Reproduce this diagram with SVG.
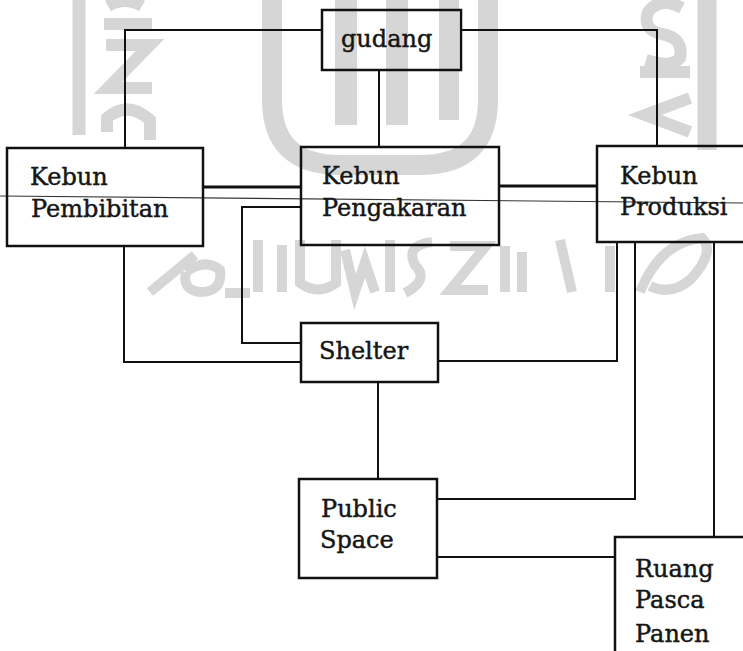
<svg xmlns="http://www.w3.org/2000/svg" width="743" height="651" viewBox="0 0 743 651">
  <style>
    .mark { fill: none; stroke: #d6d6d6; stroke-linecap: butt; stroke-linejoin: miter; }
    .box { fill: none; stroke: #111; stroke-width: 2.5; }
    .link { fill: none; stroke: #111; stroke-width: 2; }
    .bold { stroke-width: 3.2; }
    .label { font-family: "DejaVu Serif", "Liberation Serif", serif; font-size: 24px; fill: #161616; stroke: #161616; stroke-width: 0.45; }
  </style>

  <rect width="743" height="651" fill="#fff"/>

  <!-- faint emblem in the background -->
  <g id="emblem">
    <g class="mark" stroke-width="12">
      <!-- left column and rotated lettering -->
      <path d="M79 0 V135" stroke-width="13"/>
      <path d="M108 6 Q125 -4 142 6"/>
      <path d="M104 24 H152"/>
      <path d="M106 45 H150 L108 88 H152"/>
      <path d="M107 132 V118 Q128 100 150 120 V140"/>
      <!-- cup with three bars -->
      <path d="M272 0 V100 Q272 165 340 165 H420 Q488 165 488 100 V0" stroke-width="20"/>
      <path d="M346 0 V125" stroke-width="22"/>
      <path d="M397 0 V125" stroke-width="22"/>
      <path d="M449 0 V120" stroke-width="20"/>
      <!-- right rotated lettering and column -->
      <path d="M682 8 Q660 -4 648 12 Q642 30 662 34 Q684 38 680 58 Q672 68 646 60"/>
      <path d="M640 72 H690"/>
      <path d="M690 98 L645 115 L690 132"/>
      <path d="M707 0 V150" stroke-width="19"/>
    </g>
    <!-- calligraphy band -->
    <g class="mark" stroke-width="10">
      <path d="M150 292 L195 255"/>
      <path d="M186 272 Q205 258 220 270 Q223 292 200 292 Q182 290 186 272"/>
      <path d="M225 293 H250"/>
      <path d="M258 240 V292"/>
      <path d="M282 245 V292"/>
      <path d="M300 240 V283 Q318 296 336 283 V240"/>
      <path d="M345 250 L355 292 L365 262 L375 292"/>
      <path d="M390 240 V292"/>
      <path d="M432 242 Q405 245 415 265 Q430 280 405 293"/>
      <path d="M450 246 H486 L450 290 H488"/>
      <path d="M505 246 V292"/>
      <path d="M522 252 V292"/>
      <path d="M560 240 L572 292"/>
      <path d="M610 246 V292"/>
      <path d="M640 292 Q660 242 702 238 Q716 252 690 280 Q670 296 650 286"/>
    </g>
  </g>

  <!-- stray rule across the sheet -->
  <line x1="0" y1="196" x2="743" y2="203" stroke="#333" stroke-width="1.1"/>

  <g id="connectors">
    <!-- gudang to the three gardens -->
    <path class="link" d="M322 30 H125 V148"/>
    <path class="link" d="M461 30 H657 V146"/>
    <path class="link" d="M379 70 V147"/>
    <!-- garden to garden -->
    <path class="link bold" d="M203 187 H301"/>
    <path class="link bold" d="M499 186 H597"/>
    <!-- to shelter -->
    <path class="link" d="M301 207 H242 V343 H301"/>
    <path class="link" d="M124 246 V362 H301"/>
    <path class="link" d="M438 361 H617 V242"/>
    <path class="link" d="M378 382 V479"/>
    <!-- production links -->
    <path class="link" d="M635 242 V499 H437"/>
    <path class="link" d="M714 242 V537"/>
    <path class="link" d="M437 557 H615"/>
  </g>

  <g id="gudang">
    <rect class="box" x="322" y="10" width="139" height="60"/>
    <text class="label" x="341" y="47">gudang</text>
  </g>

  <g id="kebun-pembibitan">
    <rect class="box" x="7" y="148" width="196" height="98"/>
    <text class="label" x="30" y="185">Kebun</text>
    <text class="label" x="31" y="217">Pembibitan</text>
  </g>

  <g id="kebun-pengakaran">
    <rect class="box" x="301" y="147" width="198" height="98"/>
    <text class="label" x="322" y="184">Kebun</text>
    <text class="label" x="322" y="216">Pengakaran</text>
  </g>

  <g id="kebun-produksi">
    <rect class="box" x="597" y="146" width="170" height="96"/>
    <text class="label" x="620" y="184">Kebun</text>
    <text class="label" x="620" y="215">Produksi</text>
  </g>

  <g id="shelter">
    <rect class="box" x="301" y="323" width="137" height="59"/>
    <text class="label" x="319" y="359">Shelter</text>
  </g>

  <g id="public-space">
    <rect class="box" x="299" y="479" width="138" height="99"/>
    <text class="label" x="321" y="517">Public</text>
    <text class="label" x="320" y="548">Space</text>
  </g>

  <g id="ruang-pasca-panen">
    <rect class="box" x="615" y="537" width="160" height="140"/>
    <text class="label" x="635" y="577">Ruang</text>
    <text class="label" x="635" y="608">Pasca</text>
    <text class="label" x="635" y="642">Panen</text>
  </g>
</svg>
